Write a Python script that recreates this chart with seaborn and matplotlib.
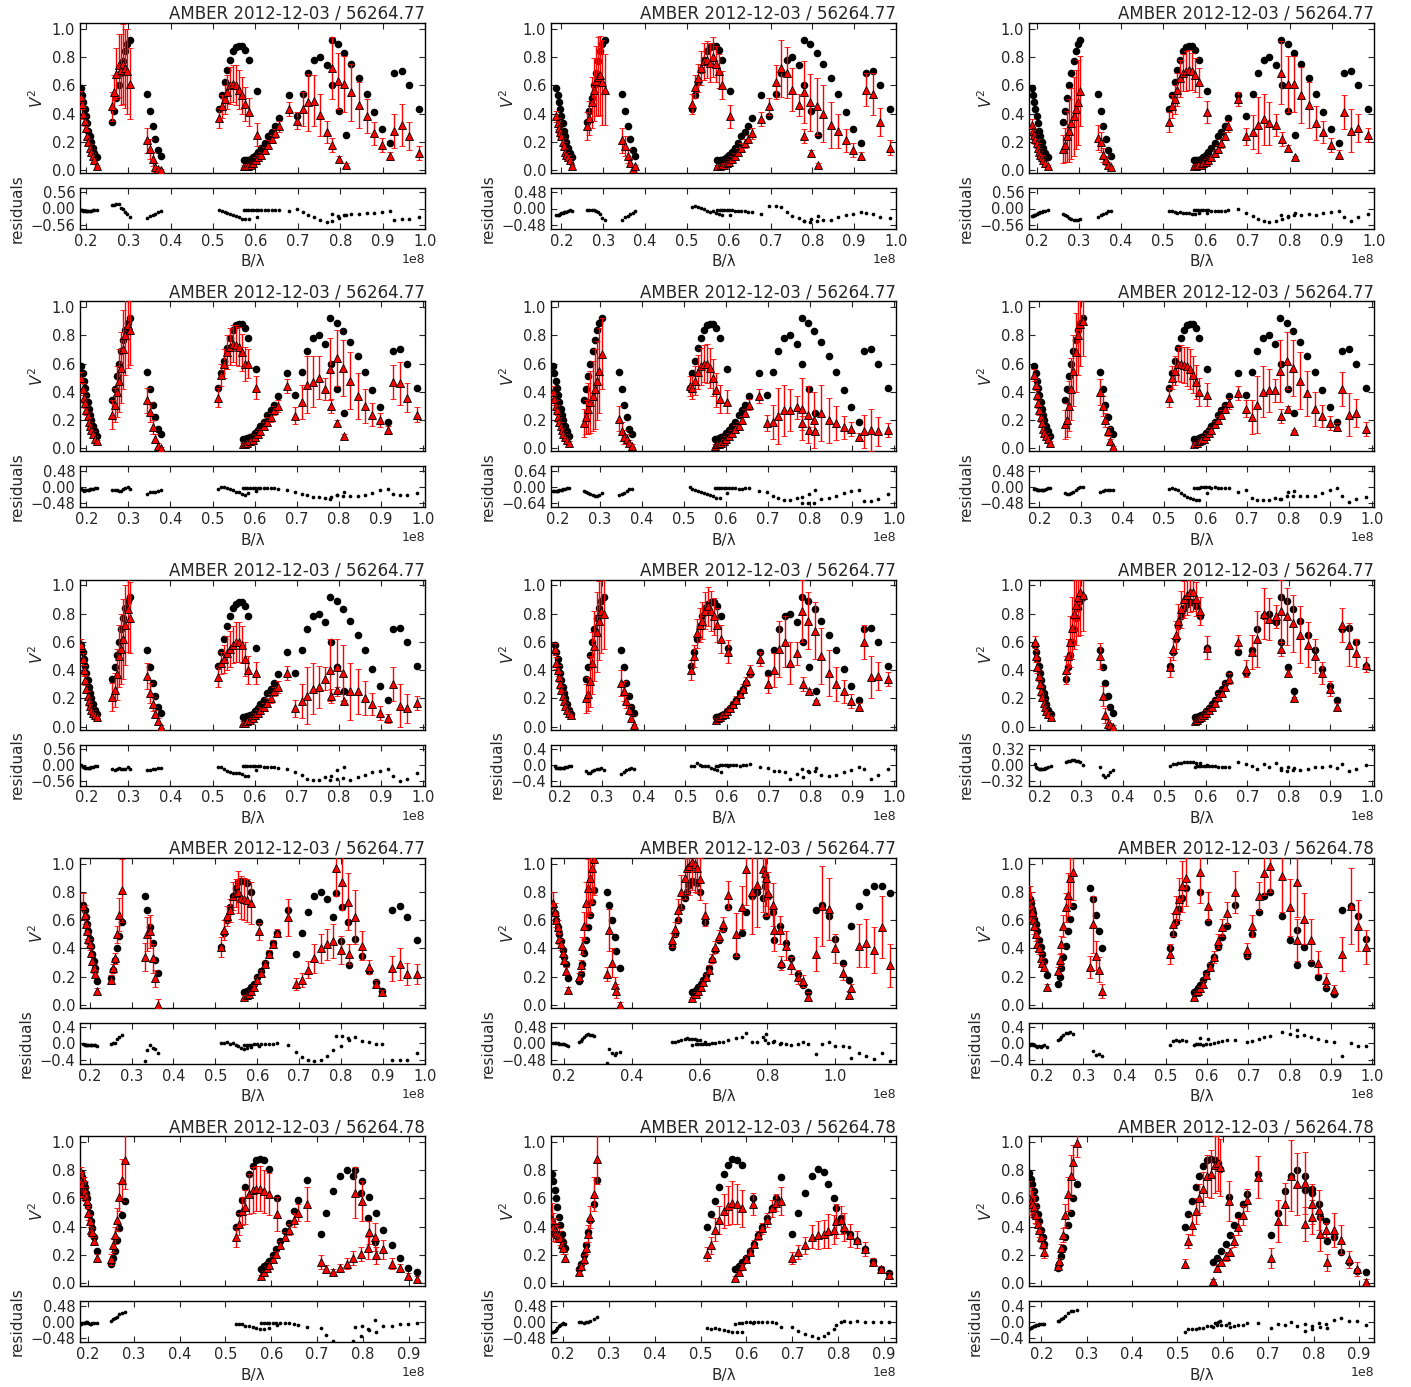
import numpy as np
import pandas as pd
import seaborn as sns
import matplotlib
matplotlib.use("Agg")
import matplotlib.pyplot as plt
from matplotlib.ticker import MultipleLocator, ScalarFormatter

# ---- rows 1-3 share the same baselines (B/lambda in units of 1e8) ----
x13 = [0.188, 0.191, 0.194, 0.197, 0.200, 0.203, 0.206, 0.209, 0.212, 0.216, 0.220, 0.226,
       0.262, 0.267, 0.272, 0.277, 0.282, 0.288, 0.293, 0.298, 0.304,
       0.345, 0.352, 0.358, 0.364, 0.370, 0.377,
       0.513, 0.520, 0.527, 0.534, 0.541, 0.548, 0.555, 0.562, 0.569, 0.576, 0.585,
       0.603,
       0.573, 0.578, 0.583, 0.589, 0.595, 0.601, 0.607, 0.614, 0.622, 0.630, 0.638, 0.646, 0.655,
       0.678, 0.697, 0.712, 0.724, 0.739, 0.752, 0.768, 0.780, 0.781, 0.795, 0.797, 0.810,
       0.813, 0.826, 0.845, 0.862, 0.880, 0.898, 0.917, 0.928, 0.945, 0.962, 0.985]
model13 = [0.58, 0.53, 0.48, 0.43, 0.38, 0.33, 0.28, 0.24, 0.20, 0.16, 0.12, 0.09,
           0.34, 0.42, 0.51, 0.60, 0.69, 0.77, 0.84, 0.89, 0.92,
           0.54, 0.42, 0.31, 0.22, 0.14, 0.10,
           0.43, 0.53, 0.62, 0.71, 0.78, 0.84, 0.87, 0.88, 0.88, 0.85, 0.78,
           0.56,
           0.07, 0.07, 0.075, 0.08, 0.09, 0.11, 0.13, 0.16, 0.19, 0.24, 0.27, 0.31, 0.37,
           0.53, 0.38, 0.54, 0.69, 0.78, 0.80, 0.74, 0.92, 0.60, 0.89, 0.42, 0.83,
           0.25, 0.75, 0.65, 0.54, 0.41, 0.29, 0.19, 0.69, 0.70, 0.60, 0.43]
err13 = [0.04, 0.04, 0.04, 0.035, 0.03, 0.03, 0.03, 0.025, 0.02, 0.02, 0.015, 0.01,
         0.10, 0.12, 0.18, 0.22, 0.25, 0.28, 0.28, 0.30, 0.25,
         0.09, 0.07, 0.05, 0.03, 0.02, 0.01,
         0.07, 0.08, 0.10, 0.12, 0.13, 0.13, 0.14, 0.14, 0.13, 0.12, 0.10,
         0.08,
         0.01, 0.01, 0.01, 0.012, 0.015, 0.02, 0.02, 0.02, 0.025, 0.03, 0.03, 0.03, 0.04,
         0.05, 0.06, 0.12, 0.20, 0.18, 0.15, 0.08, 0.22, 0.05, 0.20, 0.02, 0.20,
         0.01, 0.20, 0.16, 0.12, 0.08, 0.05, 0.03, 0.12, 0.15, 0.10, 0.05]

v2_r1c1 = [0.52, 0.47, 0.40, 0.35, 0.30, 0.24, 0.20, 0.16, 0.13, 0.10, 0.07, 0.03,
           0.45, 0.55, 0.68, 0.74, 0.71, 0.75, 0.72, 0.70, 0.61,
           0.21, 0.15, 0.08, 0.02, 0.005, 0.0,
           0.37, 0.45, 0.50, 0.55, 0.60, 0.61, 0.60, 0.57, 0.53, 0.47, 0.41,
           0.25,
           0.03, 0.03, 0.03, 0.04, 0.05, 0.07, 0.09, 0.11, 0.14, 0.18, 0.22, 0.26, 0.31,
           0.43, 0.35, 0.43, 0.48, 0.49, 0.39, 0.27, 0.72, 0.18, 0.63, 0.08, 0.61,
           0.04, 0.55, 0.46, 0.38, 0.26, 0.18, 0.10, 0.28, 0.32, 0.24, 0.12]
v2_r1c2 = [0.38, 0.33, 0.30, 0.27, 0.24, 0.20, 0.17, 0.13, 0.11, 0.09, 0.07, 0.03,
           0.31, 0.37, 0.48, 0.57, 0.63, 0.66, 0.67, 0.62, 0.57,
           0.21, 0.17, 0.10, 0.05, 0.01, 0.03,
           0.47, 0.59, 0.65, 0.72, 0.77, 0.78, 0.76, 0.80, 0.75, 0.70, 0.60,
           0.38,
           0.03, 0.03, 0.04, 0.04, 0.05, 0.06, 0.08, 0.10, 0.13, 0.16, 0.19, 0.22, 0.26,
           0.36, 0.45, 0.62, 0.72, 0.69, 0.57, 0.46, 0.55, 0.24, 0.48, 0.12, 0.45,
           0.04, 0.40, 0.32, 0.28, 0.21, 0.14, 0.10, 0.57, 0.54, 0.34, 0.16]
v2_r1c3 = [0.32, 0.28, 0.25, 0.22, 0.19, 0.16, 0.13, 0.11, 0.09, 0.07, 0.05, 0.03,
           0.15, 0.18, 0.24, 0.28, 0.33, 0.38, 0.43, 0.48, 0.56,
           0.23, 0.20, 0.11, 0.07, 0.04, 0.02,
           0.34, 0.45, 0.50, 0.57, 0.65, 0.69, 0.70, 0.71, 0.70, 0.67, 0.62,
           0.41,
           0.03, 0.03, 0.04, 0.04, 0.05, 0.06, 0.07, 0.09, 0.12, 0.15, 0.19, 0.24, 0.31,
           0.50, 0.24, 0.27, 0.32, 0.36, 0.33, 0.32, 0.69, 0.22, 0.61, 0.16, 0.61,
           0.09, 0.53, 0.46, 0.33, 0.27, 0.18, 0.11, 0.41, 0.28, 0.30, 0.25]
v2_r2c1 = [0.50, 0.42, 0.36, 0.32, 0.27, 0.23, 0.19, 0.16, 0.13, 0.10, 0.07, 0.05,
           0.24, 0.31, 0.40, 0.48, 0.57, 0.70, 0.80, 0.87, 0.84,
           0.34, 0.26, 0.15, 0.07, 0.02, 0.0,
           0.36, 0.52, 0.60, 0.68, 0.72, 0.74, 0.73, 0.72, 0.68, 0.60, 0.60,
           0.43,
           0.03, 0.03, 0.04, 0.05, 0.06, 0.08, 0.10, 0.12, 0.16, 0.19, 0.22, 0.27, 0.30,
           0.44, 0.23, 0.33, 0.45, 0.47, 0.50, 0.42, 0.56, 0.30, 0.64, 0.18, 0.57,
           0.09, 0.48, 0.37, 0.30, 0.24, 0.20, 0.13, 0.47, 0.46, 0.36, 0.24]
v2_r2c2 = [0.40, 0.35, 0.30, 0.27, 0.22, 0.19, 0.16, 0.13, 0.10, 0.08, 0.06, 0.04,
           0.18, 0.22, 0.28, 0.33, 0.37, 0.42, 0.48, 0.55, 0.67,
           0.21, 0.12, 0.08, 0.07, 0.04, 0.02,
           0.44, 0.43, 0.48, 0.54, 0.58, 0.60, 0.60, 0.57, 0.50, 0.41, 0.35,
           0.33,
           0.02, 0.03, 0.03, 0.04, 0.05, 0.07, 0.09, 0.11, 0.14, 0.16, 0.20, 0.25, 0.31,
           0.37, 0.18, 0.19, 0.23, 0.27, 0.27, 0.29, 0.28, 0.18, 0.24, 0.13, 0.20,
           0.12, 0.25, 0.20, 0.18, 0.15, 0.14, 0.08, 0.12, 0.13, 0.12, 0.13]
v2_r2c3 = [0.52, 0.45, 0.38, 0.32, 0.27, 0.22, 0.18, 0.14, 0.11, 0.09, 0.07, 0.04,
           0.17, 0.20, 0.30, 0.42, 0.55, 0.68, 0.80, 0.88, 0.90,
           0.40, 0.30, 0.20, 0.12, 0.05, 0.01,
           0.36, 0.50, 0.55, 0.60, 0.60, 0.59, 0.58, 0.56, 0.52, 0.47, 0.40,
           0.38,
           0.03, 0.04, 0.05, 0.06, 0.07, 0.09, 0.11, 0.13, 0.17, 0.20, 0.24, 0.28, 0.32,
           0.39, 0.28, 0.22, 0.31, 0.40, 0.41, 0.41, 0.55, 0.23, 0.62, 0.28, 0.57,
           0.12, 0.48, 0.39, 0.28, 0.23, 0.18, 0.15, 0.42, 0.24, 0.25, 0.14]
v2_r3c1 = [0.58, 0.48, 0.40, 0.33, 0.27, 0.22, 0.18, 0.15, 0.12, 0.10, 0.08, 0.07,
           0.21, 0.26, 0.37, 0.50, 0.55, 0.62, 0.72, 0.83, 0.77,
           0.36, 0.24, 0.16, 0.09, 0.04, 0.0,
           0.35, 0.45, 0.48, 0.52, 0.55, 0.58, 0.60, 0.60, 0.58, 0.48, 0.40,
           0.38,
           0.03, 0.03, 0.04, 0.05, 0.06, 0.08, 0.10, 0.12, 0.14, 0.17, 0.20, 0.25, 0.28,
           0.38, 0.13, 0.18, 0.22, 0.27, 0.28, 0.34, 0.40, 0.22, 0.42, 0.26, 0.38,
           0.18, 0.25, 0.25, 0.20, 0.16, 0.10, 0.06, 0.30, 0.15, 0.13, 0.17]
v2_r3c2 = [0.55, 0.45, 0.40, 0.35, 0.30, 0.26, 0.22, 0.18, 0.15, 0.12, 0.10, 0.08,
           0.20, 0.23, 0.32, 0.45, 0.57, 0.67, 0.75, 0.82, 0.80,
           0.31, 0.25, 0.18, 0.12, 0.06, 0.01,
           0.40, 0.50, 0.66, 0.72, 0.75, 0.82, 0.85, 0.82, 0.78, 0.72, 0.62,
           0.53,
           0.05, 0.06, 0.07, 0.08, 0.09, 0.11, 0.13, 0.16, 0.19, 0.23, 0.27, 0.32, 0.40,
           0.48, 0.30, 0.40, 0.55, 0.60, 0.45, 0.52, 0.82, 0.30, 0.75, 0.25, 0.68,
           0.18, 0.50, 0.38, 0.30, 0.25, 0.18, 0.14, 0.60, 0.35, 0.36, 0.34]
v2_r3c3 = [0.60, 0.50, 0.42, 0.36, 0.30, 0.25, 0.21, 0.17, 0.14, 0.11, 0.09, 0.07,
           0.40, 0.50, 0.60, 0.70, 0.80, 0.86, 0.92, 0.95, 0.93,
           0.50, 0.22, 0.08, 0.02, 0.01, 0.0,
           0.42, 0.55, 0.65, 0.75, 0.83, 0.90, 0.93, 0.95, 0.95, 0.90, 0.82,
           0.56,
           0.04, 0.05, 0.06, 0.07, 0.08, 0.10, 0.12, 0.14, 0.17, 0.21, 0.24, 0.28, 0.34,
           0.60, 0.41, 0.53, 0.62, 0.80, 0.76, 0.78, 0.82, 0.55, 0.78, 0.38, 0.73,
           0.20, 0.65, 0.58, 0.50, 0.38, 0.27, 0.14, 0.72, 0.58, 0.52, 0.44]

# ---- rows 4-5: own baselines ----
x_r4c1 = [0.185, 0.188, 0.191, 0.194, 0.197, 0.200, 0.203, 0.206, 0.210, 0.213, 0.218,
          0.250, 0.255, 0.260, 0.265, 0.270, 0.276,
          0.331, 0.338, 0.343, 0.351, 0.357, 0.364,
          0.513, 0.520, 0.528, 0.536, 0.543, 0.548, 0.555, 0.562, 0.568, 0.575, 0.584,
          0.604,
          0.568, 0.575, 0.580, 0.586, 0.592, 0.600, 0.608, 0.618, 0.628, 0.638, 0.648,
          0.672, 0.693, 0.706, 0.722, 0.735, 0.751, 0.767, 0.781, 0.787, 0.799, 0.803,
          0.816, 0.819, 0.833, 0.850, 0.866, 0.882, 0.898, 0.922, 0.940, 0.958, 0.980]
model_r4c1 = [0.71, 0.67, 0.62, 0.57, 0.52, 0.47, 0.42, 0.36, 0.31, 0.26, 0.17,
              0.19, 0.25, 0.32, 0.40, 0.49, 0.59,
              0.77, 0.67, 0.55, 0.44, 0.32, 0.23,
              0.41, 0.51, 0.60, 0.69, 0.77, 0.83, 0.87, 0.88, 0.88, 0.86, 0.80,
              0.59,
              0.09, 0.10, 0.11, 0.13, 0.15, 0.20, 0.24, 0.30, 0.37, 0.44, 0.51,
              0.67, 0.36, 0.51, 0.66, 0.77, 0.80, 0.75, 0.62, 0.79, 0.45, 0.69,
              0.59, 0.28, 0.47, 0.35, 0.24, 0.16, 0.10, 0.67, 0.70, 0.62, 0.46]
v2_r4c1 = [0.70, 0.64, 0.57, 0.52, 0.47, 0.43, 0.37, 0.31, 0.26, 0.22, 0.10,
           0.18, 0.26, 0.33, 0.50, 0.64, 0.81,
           0.34, 0.50, 0.52, 0.33, 0.19, 0.0,
           0.41, 0.53, 0.63, 0.67, 0.77, 0.79, 0.80, 0.76, 0.75, 0.74, 0.72,
           0.52,
           0.06, 0.07, 0.08, 0.10, 0.13, 0.18, 0.23, 0.29, 0.36, 0.43, 0.51,
           0.62, 0.15, 0.18, 0.25, 0.33, 0.40, 0.43, 0.45, 0.97, 0.39, 0.87,
           0.73, 0.36, 0.62, 0.42, 0.27, 0.15, 0.09, 0.26, 0.29, 0.22, 0.22]
err_r4c1 = [0.09, 0.07, 0.06, 0.05, 0.04, 0.04, 0.03, 0.03, 0.03, 0.02, 0.02,
            0.03, 0.03, 0.04, 0.06, 0.12, 0.22,
            0.10, 0.12, 0.12, 0.10, 0.06, 0.04,
            0.07, 0.07, 0.07, 0.08, 0.10, 0.10, 0.15, 0.15, 0.15, 0.15, 0.15,
            0.06,
            0.01, 0.01, 0.01, 0.01, 0.015, 0.02, 0.02, 0.02, 0.03, 0.03, 0.03,
            0.13, 0.04, 0.05, 0.06, 0.10, 0.10, 0.11, 0.12, 0.20, 0.10, 0.20,
            0.20, 0.07, 0.19, 0.10, 0.05, 0.03, 0.02, 0.09, 0.11, 0.08, 0.07]

x_r4c2 = [0.168, 0.172, 0.177, 0.182, 0.185, 0.190, 0.195, 0.200, 0.204, 0.212,
          0.244, 0.249, 0.254, 0.259, 0.264, 0.271, 0.276, 0.281, 0.288,
          0.325, 0.333, 0.342, 0.349, 0.354, 0.364,
          0.517, 0.526, 0.536, 0.544, 0.556, 0.563, 0.570, 0.578, 0.585, 0.593, 0.600,
          0.615,
          0.578, 0.588, 0.595, 0.603, 0.610, 0.620, 0.628, 0.637, 0.646, 0.657, 0.669,
          0.684, 0.708, 0.725, 0.738, 0.755, 0.769, 0.787, 0.792, 0.797, 0.803, 0.816,
          0.819, 0.836, 0.841, 0.856, 0.870, 0.890, 0.905, 0.921, 0.944, 0.962, 0.983,
          1.001, 1.023, 1.042, 1.047, 1.070, 1.091, 1.116, 1.140, 1.162]
model_r4c2 = [0.70, 0.65, 0.60, 0.55, 0.50, 0.45, 0.39, 0.34, 0.29, 0.19,
              0.17, 0.22, 0.29, 0.37, 0.46, 0.55, 0.64, 0.73, 0.81,
              0.80, 0.71, 0.60, 0.48, 0.38, 0.26,
              0.41, 0.50, 0.60, 0.69, 0.76, 0.80, 0.85, 0.88, 0.87, 0.86, 0.80,
              0.59,
              0.09, 0.11, 0.13, 0.15, 0.18, 0.21, 0.26, 0.32, 0.39, 0.46, 0.54,
              0.69, 0.35, 0.51, 0.66, 0.77, 0.80, 0.76, 0.84, 0.63, 0.77, 0.66,
              0.46, 0.56, 0.28, 0.44, 0.33, 0.22, 0.14, 0.09, 0.67, 0.71, 0.63,
              0.47, 0.30, 0.18, 0.56, 0.70, 0.80, 0.84, 0.84, 0.79]
v2_r4c2 = [0.72, 0.66, 0.60, 0.55, 0.47, 0.43, 0.37, 0.32, 0.24, 0.11,
           0.20, 0.28, 0.42, 0.56, 0.72, 0.83, 0.90, 0.97, 1.03,
           0.22, 0.53, 0.30, 0.14, 0.10, 0.0,
           0.46, 0.54, 0.67, 0.80, 0.90, 0.97, 0.98, 1.01, 1.00, 0.97, 0.89,
           0.64,
           0.05, 0.08, 0.10, 0.13, 0.16, 0.20, 0.25, 0.33, 0.41, 0.49, 0.57,
           0.78, 0.50, 0.69, 0.96, 0.80, 0.85, 0.96, 0.93, 0.90, 0.79, 0.71,
           0.53, 0.53, 0.30, 0.42, 0.28, 0.20, 0.17, 0.06, 0.36, 0.70, 0.68,
           0.40, 0.23, 0.07, 0.12, 0.42, 0.44, 0.39, 0.55, 0.28]
err_r4c2 = [0.08, 0.06, 0.05, 0.05, 0.04, 0.04, 0.03, 0.03, 0.03, 0.02,
            0.03, 0.04, 0.06, 0.10, 0.15, 0.20, 0.25, 0.25, 0.25,
            0.05, 0.15, 0.10, 0.06, 0.05, 0.02,
            0.05, 0.05, 0.08, 0.12, 0.15, 0.18, 0.20, 0.20, 0.20, 0.18, 0.15,
            0.08,
            0.01, 0.01, 0.01, 0.015, 0.02, 0.02, 0.03, 0.03, 0.04, 0.04, 0.05,
            0.10, 0.15, 0.15, 0.25, 0.30, 0.30, 0.30, 0.30, 0.20, 0.15, 0.15,
            0.15, 0.10, 0.05, 0.10, 0.06, 0.05, 0.04, 0.03, 0.12, 0.28, 0.22,
            0.10, 0.05, 0.03, 0.03, 0.15, 0.17, 0.16, 0.22, 0.15]

x_r4c3 = [0.170, 0.173, 0.176, 0.178, 0.181, 0.184, 0.188, 0.192, 0.196, 0.200, 0.204, 0.211,
          0.238, 0.242, 0.246, 0.251, 0.257, 0.263, 0.268, 0.275,
          0.316, 0.324, 0.330, 0.338, 0.344,
          0.511, 0.517, 0.525, 0.532, 0.539, 0.548,
          0.584, 0.603,
          0.569, 0.574, 0.578, 0.584, 0.590, 0.598, 0.608, 0.616, 0.627, 0.637, 0.648,
          0.668, 0.696, 0.710, 0.725, 0.739, 0.753, 0.783, 0.802, 0.818, 0.819,
          0.835, 0.853, 0.870, 0.888, 0.908, 0.928, 0.949, 0.965, 0.985]
model_r4c3 = [0.75, 0.72, 0.68, 0.65, 0.61, 0.57, 0.52, 0.46, 0.41, 0.36, 0.31, 0.21,
              0.15, 0.20, 0.26, 0.34, 0.42, 0.52, 0.61, 0.70,
              0.83, 0.75, 0.64, 0.52, 0.40,
              0.40, 0.50, 0.59, 0.68, 0.76, 0.83,
              0.80, 0.59,
              0.09, 0.10, 0.12, 0.14, 0.18, 0.23, 0.28, 0.34, 0.41, 0.48, 0.56,
              0.71, 0.35, 0.50, 0.66, 0.77, 0.80, 0.63, 0.46, 0.53, 0.28,
              0.41, 0.30, 0.20, 0.12, 0.08, 0.67, 0.70, 0.63, 0.47]
v2_r4c3 = [0.72, 0.70, 0.66, 0.60, 0.56, 0.50, 0.43, 0.40, 0.33, 0.30, 0.27, 0.13,
           0.24, 0.32, 0.43, 0.56, 0.69, 0.78, 0.90, 0.94,
           0.27, 0.57, 0.35, 0.25, 0.10,
           0.36, 0.57, 0.67, 0.75, 0.84, 0.90,
           0.94, 0.70,
           0.06, 0.09, 0.10, 0.12, 0.15, 0.21, 0.27, 0.34, 0.45, 0.55, 0.65,
           0.80, 0.39, 0.56, 0.77, 0.93, 0.98, 0.91, 0.69, 0.87, 0.46,
           0.61, 0.46, 0.30, 0.18, 0.11, 0.36, 0.70, 0.56, 0.41]
err_r4c3 = [0.12, 0.10, 0.08, 0.07, 0.06, 0.05, 0.05, 0.04, 0.04, 0.03, 0.03, 0.02,
            0.03, 0.04, 0.06, 0.08, 0.10, 0.15, 0.20, 0.20,
            0.08, 0.20, 0.10, 0.09, 0.05,
            0.07, 0.08, 0.10, 0.15, 0.18, 0.20,
            0.22, 0.10,
            0.01, 0.01, 0.01, 0.015, 0.02, 0.02, 0.03, 0.04, 0.05, 0.06, 0.08,
            0.15, 0.05, 0.08, 0.10, 0.15, 0.18, 0.25, 0.20, 0.25, 0.15,
            0.18, 0.15, 0.08, 0.05, 0.03, 0.12, 0.27, 0.18, 0.12]

x_r5c1 = [0.186, 0.188, 0.191, 0.193, 0.195, 0.198, 0.201, 0.204, 0.207, 0.210, 0.213, 0.219,
          0.250, 0.255, 0.259, 0.264, 0.269, 0.275, 0.280,
          0.522, 0.529, 0.536, 0.543, 0.552, 0.560, 0.567, 0.576, 0.584, 0.594,
          0.613,
          0.577, 0.585, 0.591, 0.596, 0.603, 0.611, 0.620, 0.629, 0.638, 0.649, 0.658,
          0.678, 0.708, 0.720, 0.735, 0.749, 0.765, 0.778, 0.782, 0.795, 0.797,
          0.811, 0.813, 0.827, 0.829, 0.844, 0.862, 0.880, 0.897, 0.917]
model_r5c1 = [0.78, 0.75, 0.71, 0.68, 0.64, 0.60, 0.55, 0.50, 0.44, 0.39, 0.33, 0.23,
              0.14, 0.18, 0.23, 0.31, 0.39, 0.48, 0.58,
              0.40, 0.50, 0.59, 0.68, 0.77, 0.83, 0.87, 0.88, 0.87, 0.81,
              0.60,
              0.10, 0.12, 0.14, 0.16, 0.20, 0.24, 0.30, 0.37, 0.43, 0.51, 0.59,
              0.73, 0.35, 0.50, 0.65, 0.76, 0.80, 0.76, 0.80, 0.64, 0.72,
              0.46, 0.61, 0.29, 0.50, 0.38, 0.27, 0.18, 0.11, 0.08]
v2_r5c1 = [0.72, 0.70, 0.67, 0.65, 0.62, 0.58, 0.50, 0.44, 0.38, 0.36, 0.30, 0.18,
           0.17, 0.27, 0.34, 0.45, 0.61, 0.73, 0.87,
           0.33, 0.42, 0.51, 0.54, 0.63, 0.66, 0.67, 0.67, 0.65, 0.63,
           0.49,
           0.05, 0.08, 0.11, 0.13, 0.17, 0.21, 0.27, 0.33, 0.38, 0.45, 0.50,
           0.56, 0.15, 0.10, 0.08, 0.11, 0.14, 0.18, 0.64, 0.21, 0.58,
           0.25, 0.36, 0.33, 0.20, 0.24, 0.14, 0.11, 0.05, 0.03]
err_r5c1 = [0.10, 0.09, 0.08, 0.07, 0.06, 0.05, 0.05, 0.04, 0.04, 0.03, 0.03, 0.03,
            0.04, 0.05, 0.06, 0.08, 0.10, 0.15, 0.20,
            0.07, 0.08, 0.10, 0.12, 0.14, 0.16, 0.16, 0.16, 0.15, 0.15,
            0.12,
            0.01, 0.01, 0.015, 0.02, 0.02, 0.02, 0.03, 0.03, 0.04, 0.05, 0.06,
            0.12, 0.05, 0.03, 0.02, 0.03, 0.04, 0.05, 0.18, 0.05, 0.14,
            0.08, 0.08, 0.10, 0.06, 0.07, 0.04, 0.03, 0.02, 0.02]

x_r5c2 = [0.176, 0.179, 0.182, 0.185, 0.188, 0.191, 0.194, 0.197, 0.200, 0.204,
          0.235, 0.240, 0.245, 0.250, 0.255, 0.260, 0.267, 0.275,
          0.515, 0.523, 0.531, 0.540, 0.550, 0.559, 0.569, 0.579, 0.590,
          0.615,
          0.575, 0.583, 0.591, 0.600, 0.608, 0.617, 0.626, 0.635, 0.645, 0.655, 0.665,
          0.675, 0.700, 0.713, 0.727, 0.742, 0.757, 0.770, 0.778, 0.790,
          0.795, 0.806, 0.812, 0.826, 0.842, 0.858, 0.876, 0.893, 0.910]
model_r5c2 = [0.77, 0.72, 0.66, 0.60, 0.54, 0.47, 0.41, 0.35, 0.29, 0.25,
              0.10, 0.14, 0.20, 0.27, 0.36, 0.45, 0.56, 0.73,
              0.40, 0.49, 0.58, 0.68, 0.77, 0.84, 0.88, 0.87, 0.84,
              0.60,
              0.10, 0.12, 0.15, 0.18, 0.23, 0.28, 0.34, 0.40, 0.46, 0.53, 0.60,
              0.75, 0.35, 0.50, 0.64, 0.76, 0.81, 0.79, 0.70, 0.60,
              0.53, 0.46, 0.38, 0.35, 0.30, 0.24, 0.16, 0.10, 0.07]
v2_r5c2 = [0.45, 0.40, 0.38, 0.36, 0.35, 0.34, 0.32, 0.28, 0.25, 0.18,
           0.08, 0.12, 0.17, 0.25, 0.35, 0.47, 0.63, 0.88,
           0.21, 0.27, 0.38, 0.45, 0.51, 0.55, 0.57, 0.56, 0.53,
           0.56,
           0.04, 0.08, 0.12, 0.17, 0.22, 0.28, 0.34, 0.39, 0.45, 0.53, 0.57,
           0.58, 0.18, 0.22, 0.27, 0.33, 0.34, 0.35, 0.37, 0.38,
           0.44, 0.45, 0.40, 0.34, 0.31, 0.24, 0.15, 0.10, 0.06]
err_r5c2 = [0.12, 0.10, 0.08, 0.07, 0.06, 0.05, 0.05, 0.04, 0.04, 0.03,
            0.02, 0.02, 0.03, 0.04, 0.06, 0.08, 0.12, 0.18,
            0.05, 0.06, 0.08, 0.10, 0.12, 0.14, 0.15, 0.14, 0.13,
            0.08,
            0.01, 0.01, 0.015, 0.02, 0.02, 0.03, 0.03, 0.04, 0.05, 0.06, 0.06,
            0.10, 0.04, 0.05, 0.06, 0.08, 0.10, 0.10, 0.12, 0.10,
            0.12, 0.10, 0.10, 0.08, 0.06, 0.05, 0.03, 0.02, 0.02]

x_r5c3 = [0.174, 0.177, 0.180, 0.183, 0.186, 0.189, 0.193, 0.196, 0.200, 0.204, 0.207,
          0.236, 0.239, 0.243, 0.248, 0.253, 0.259, 0.265, 0.270, 0.278,
          0.516, 0.524, 0.532, 0.541, 0.548, 0.557, 0.565, 0.574, 0.582, 0.589, 0.593,
          0.613,
          0.578, 0.587, 0.596, 0.606, 0.615, 0.624, 0.633, 0.644, 0.654,
          0.678, 0.706, 0.722, 0.736, 0.750, 0.763, 0.780, 0.781, 0.796, 0.797,
          0.812, 0.813, 0.828, 0.830, 0.844, 0.861, 0.878, 0.896, 0.915]
model_r5c3 = [0.78, 0.74, 0.70, 0.65, 0.60, 0.55, 0.49, 0.44, 0.38, 0.33, 0.28,
              0.11, 0.14, 0.19, 0.25, 0.33, 0.41, 0.50, 0.60, 0.70,
              0.40, 0.49, 0.58, 0.68, 0.76, 0.83, 0.87, 0.88, 0.87, 0.85, 0.81,
              0.61,
              0.15, 0.18, 0.23, 0.28, 0.34, 0.41, 0.48, 0.56, 0.63,
              0.77, 0.34, 0.50, 0.65, 0.76, 0.80, 0.76, 0.66, 0.67, 0.64,
              0.56, 0.47, 0.44, 0.30, 0.33, 0.22, 0.15, 0.09, 0.08]
v2_r5c3 = [0.60, 0.58, 0.56, 0.54, 0.50, 0.48, 0.42, 0.38, 0.33, 0.28, 0.22,
           0.12, 0.16, 0.25, 0.34, 0.48, 0.63, 0.76, 0.86, 0.99,
           0.14, 0.30, 0.41, 0.51, 0.60, 0.67, 0.76, 0.77, 0.84, 0.85, 0.82,
           0.58,
           0.02, 0.11, 0.15, 0.19, 0.22, 0.30, 0.40, 0.48, 0.59,
           0.75, 0.18, 0.44, 0.56, 0.76, 0.70, 0.71, 0.42, 0.56, 0.47,
           0.52, 0.35, 0.38, 0.15, 0.38, 0.31, 0.17, 0.10, 0.01]
err_r5c3 = [0.12, 0.10, 0.09, 0.08, 0.07, 0.06, 0.05, 0.05, 0.04, 0.04, 0.04,
            0.02, 0.02, 0.03, 0.05, 0.08, 0.12, 0.15, 0.12, 0.10,
            0.03, 0.05, 0.07, 0.09, 0.10, 0.12, 0.15, 0.17, 0.20, 0.20, 0.20,
            0.14,
            0.01, 0.02, 0.02, 0.03, 0.03, 0.04, 0.06, 0.07, 0.08,
            0.15, 0.07, 0.15, 0.15, 0.25, 0.22, 0.22, 0.12, 0.14, 0.12,
            0.14, 0.12, 0.05, 0.06, 0.12, 0.10, 0.06, 0.05, 0.02]

mjd = ["56264.77"] * 11 + ["56264.78"] * 4
res_ticks = [0.56, 0.48, 0.56, 0.48, 0.64, 0.48, 0.56, 0.40, 0.32,
             0.40, 0.48, 0.40, 0.48, 0.48, 0.40]
xlims = [(0.186, 1.0), (0.175, 1.0), (0.182, 1.0),
         (0.185, 1.005), (0.183, 1.005), (0.175, 1.005),
         (0.185, 1.005), (0.178, 1.005), (0.174, 1.005),
         (0.177, 1.0), (0.161, 1.18), (0.168, 1.005),
         (0.183, 0.935), (0.174, 0.926), (0.173, 0.933)]

panels = [(x13, model13, v2_r1c1, err13), (x13, model13, v2_r1c2, err13), (x13, model13, v2_r1c3, err13),
          (x13, model13, v2_r2c1, err13), (x13, model13, v2_r2c2, err13), (x13, model13, v2_r2c3, err13),
          (x13, model13, v2_r3c1, err13), (x13, model13, v2_r3c2, err13), (x13, model13, v2_r3c3, err13),
          (x_r4c1, model_r4c1, v2_r4c1, err_r4c1), (x_r4c2, model_r4c2, v2_r4c2, err_r4c2),
          (x_r4c3, model_r4c3, v2_r4c3, err_r4c3),
          (x_r5c1, model_r5c1, v2_r5c1, err_r5c1), (x_r5c2, model_r5c2, v2_r5c2, err_r5c2),
          (x_r5c3, model_r5c3, v2_r5c3, err_r5c3)]

sns.set_style("ticks")
plt.rcParams.update({
    "font.family": ["DejaVu Sans"],
    "xtick.direction": "in", "ytick.direction": "in",
    "xtick.top": True, "ytick.right": True,
    "xtick.major.size": 4, "ytick.major.size": 4,
    "xtick.labelsize": 10.5, "ytick.labelsize": 10.5,
    "axes.labelsize": 11, "axes.edgecolor": "black", "axes.linewidth": 1.0,
    "mathtext.fontset": "dejavusans",
})

W, H = 1411, 1387
fig = plt.figure(figsize=(W / 100, H / 100), dpi=100)
col_left = [80, 551, 1029]
col_w = 345
row_step = 278.3

for i, (xs, mod, v2, err) in enumerate(panels):
    r, c = divmod(i, 3)
    t0 = 23 + row_step * r
    ax = fig.add_axes([col_left[c] / W, 1 - (t0 + 150) / H, col_w / W, 150 / H])
    rax = fig.add_axes([col_left[c] / W, 1 - (t0 + 206) / H, col_w / W, 41 / H])

    df = pd.DataFrame({"B": np.array(xs) * 1e8, "model": mod, "v2": v2, "err": err})
    df["res"] = df["v2"] - df["model"]

    sns.scatterplot(data=df, x="B", y="model", color="black", s=30, linewidth=0,
                    ax=ax, zorder=2, legend=False)
    ax.errorbar(df["B"], df["v2"], yerr=df["err"], fmt="^", color="red", mec="black",
                mew=0.6, ms=5.5, ecolor="red", elinewidth=1, capsize=2.5, capthick=1,
                zorder=3)
    sns.scatterplot(data=df, x="B", y="res", color="black", s=7, linewidth=0,
                    ax=rax, legend=False)

    lo, hi = xlims[i]
    step = 0.2e8 if hi > 1.1 else 0.1e8
    for a in (ax, rax):
        a.set_xlim(lo * 1e8, hi * 1e8)
        a.xaxis.set_major_locator(MultipleLocator(step))
        fmt = ScalarFormatter(useOffset=False)
        fmt.set_powerlimits((8, 8))
        a.xaxis.set_major_formatter(fmt)
    ax.set_ylim(-0.02, 1.04)
    ax.set_yticks(np.arange(0, 1.01, 0.2))
    ax.tick_params(labelbottom=False)
    ax.set_xlabel("")
    ax.set_ylabel("$V^2$")
    ax.set_title("AMBER 2012-12-03 / " + mjd[i], loc="right", fontsize=12, pad=3)

    t = res_ticks[i]
    rax.set_ylim(-1.27 * t, 1.27 * t)
    rax.set_yticks([-t, 0, t])
    rax.set_ylabel("residuals")
    rax.set_xlabel("B/λ")
    rax.xaxis.get_offset_text().set_fontsize(9)

fig.savefig("out.png", dpi=100)
